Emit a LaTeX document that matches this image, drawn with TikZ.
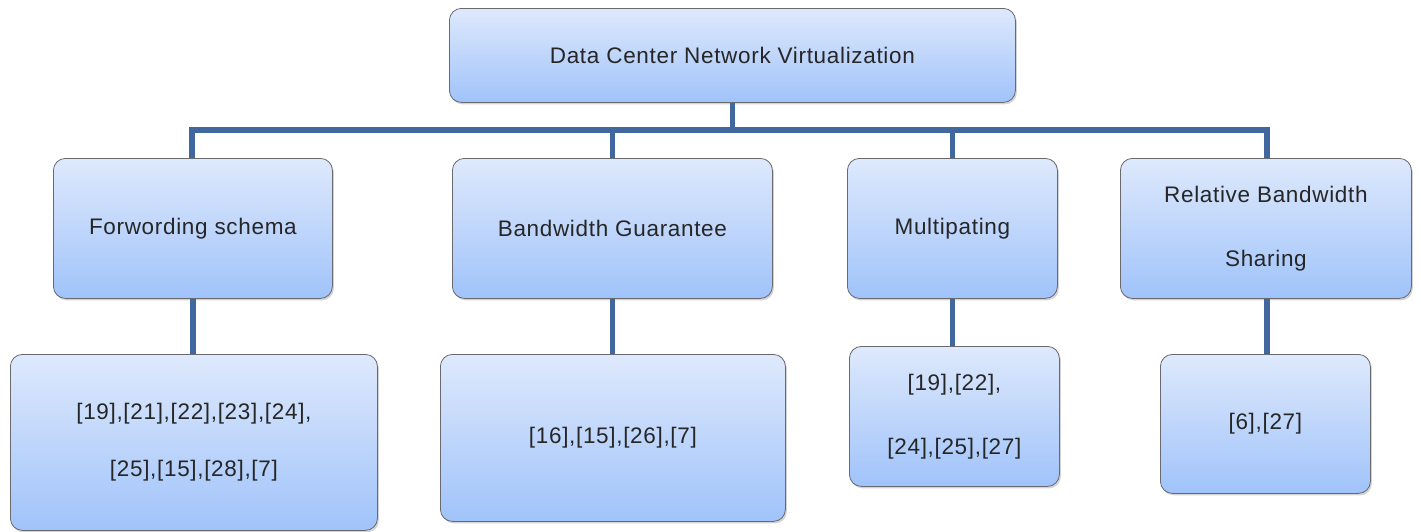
\documentclass[tikz,border=0pt]{standalone}
\usepackage{fontspec}
\setmainfont{Liberation Sans}[LetterSpace=3]
\usetikzlibrary{shadings,shadows}
\definecolor{boxtop}{RGB}{222,233,252}
\definecolor{boxbot}{RGB}{160,195,250}
\definecolor{boxedge}{RGB}{105,105,110}
\definecolor{linkblue}{RGB}{64,104,158}
\tikzset{
  catbox/.style={draw=boxedge, line width=0.8pt, rounded corners=12pt,
    top color=boxtop, bottom color=boxbot, inner sep=0pt, align=center,
    anchor=north west, text=black!85,
    drop shadow={shadow xshift=1.5pt, shadow yshift=-2pt, opacity=0.35},
    font=\fontsize{22.5}{64}\selectfont},
  link/.style={draw=linkblue, line width=5.5pt}
}
\begin{document}
\begin{tikzpicture}[x=1pt,y=-1pt]
\useasboundingbox (0,0) rectangle (1421,531);
% root
\node[catbox, minimum width=566pt, minimum height=94pt] (root) at (449,8)
  {Data Center Network Virtualization};
% second level
\node[catbox, minimum width=279pt, minimum height=140pt] (fw) at (53,158) {Forwording schema};
\node[catbox, minimum width=320pt, minimum height=140pt] (bg) at (452,158) {Bandwidth Guarantee};
\node[catbox, minimum width=210pt, minimum height=140pt] (mp) at (847,158) {Multipating};
\node[catbox, minimum width=291pt, minimum height=140pt] (rb) at (1120,158) {Relative Bandwidth\\Sharing};
% third level
\node[catbox, minimum width=367pt, minimum height=176pt,
  font=\fontsize{22.5}{57}\selectfont] (fwr) at (10,354)
  {[19],[21],[22],[23],[24],\\{}[25],[15],[28],[7]};
\node[catbox, minimum width=345pt, minimum height=167pt] (bgr) at (440,354) {[16],[15],[26],[7]};
\node[catbox, minimum width=210pt, minimum height=140pt] (mpr) at (849,346) {[19],[22],\\{}[24],[25],[27]};
\node[catbox, minimum width=210pt, minimum height=139pt] (rbr) at (1160,354) {[6],[27]};
% bus and drops
\coordinate (busL) at (192,130);
\coordinate (busR) at (1267,130);
\draw[link] ([xshift=-2.75pt]busL) -- ([xshift=2.75pt]busR);
\draw[link] (root.south) -- (root.south |- busL);
\draw[link] (busL) -- (busL |- fw.north);
\draw[link] (bg.north |- busL) -- (bg.north);
\draw[link] (mp.north |- busL) -- (mp.north);
\draw[link] (busR) -- (busR |- rb.north);
\draw[link] (fw.south) -- (fw.south |- fwr.north);
\draw[link] (bg.south) -- (bg.south |- bgr.north);
\draw[link] (mp.south) -- (mp.south |- mpr.north);
\draw[link] (busR |- rb.south) -- (busR |- rbr.north);
\end{tikzpicture}
\end{document}
